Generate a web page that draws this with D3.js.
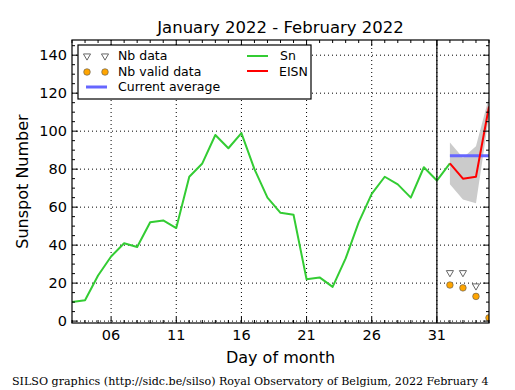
<!DOCTYPE html>
<html><head><meta charset="utf-8">
<script src="https://cdn.jsdelivr.net/npm/d3@7"></script>
<style>body{margin:0;background:#fff}svg{display:block}</style>
</head><body>
<script>
// Data
const snDays = [3,4,5,6,7,8,9,10,11,12,13,14,15,16,17,18,19,20,21,22,23,24,25,26,27,28,29,30,31,32];
const snValues = [10,11,24,34,41,39,52,53,49,76,83,98,91,99,80,65,57,56,22,23,18,33,52,67,76,72,65,81,74,83];
const eisnDays = [32,33,34,35];
const eisnValues = [83,75,76,113];
const bandLow = [72,64,62,108];
const bandHigh = [94,86,92,118];
const avgDays = [32,35];
const avgValue = 87;
const nbDataDays = [32,33,34];
const nbDataValues = [25.5,25.5,18.5];
const nbValidDays = [32,33,34,35];
const nbValidValues = [19,17.5,13,1.7];
const xTickDays = [6,11,16,21,26,31];
const yTicks = [0,20,40,60,80,100,120,140];

const W = 515, H = 390;
const L = 72, R = 489, T = 40, B = 323;
const svg = d3.select("body").append("svg").attr("width", W).attr("height", H);
const x = d3.scaleLinear().domain([3,35]).range([L,R]);
const y = d3.scaleLinear().domain([-1,148]).range([B,T]);
const font = "DejaVu Sans, sans-serif";

svg.append("defs").append("clipPath").attr("id","clip")
  .append("rect").attr("x",L).attr("y",T).attr("width",R-L).attr("height",B-T);

// grid
const grid = svg.append("g");
xTickDays.forEach(d => grid.append("line").attr("x1",x(d)).attr("x2",x(d)).attr("y1",T).attr("y2",B)
  .attr("stroke","#000").attr("stroke-width",1).attr("stroke-dasharray","1,3"));
yTicks.forEach(v => grid.append("line").attr("x1",L).attr("x2",R).attr("y1",y(v)).attr("y2",y(v))
  .attr("stroke","#000").attr("stroke-width",1).attr("stroke-dasharray","1,3"));

const plot = svg.append("g").attr("clip-path","url(#clip)");

// band
const bandData = eisnDays.map((d,i)=>({d, lo:bandLow[i], hi:bandHigh[i]}));
plot.append("path").datum(bandData)
  .attr("d", d3.area().x(p=>x(p.d)).y0(p=>y(p.lo)).y1(p=>y(p.hi)))
  .attr("fill","#cbcbcb");

// current average
plot.append("line").attr("x1",x(avgDays[0])).attr("x2",x(avgDays[1]))
  .attr("y1",y(avgValue)).attr("y2",y(avgValue))
  .attr("stroke","#6666ff").attr("stroke-width",3);

const line = d3.line().x(p=>x(p[0])).y(p=>y(p[1]));
plot.append("path").datum(snDays.map((d,i)=>[d,snValues[i]]))
  .attr("d", line).attr("fill","none").attr("stroke","#33cc33").attr("stroke-width",2).attr("stroke-linejoin","round");
plot.append("path").datum(eisnDays.map((d,i)=>[d,eisnValues[i]]))
  .attr("d", line).attr("fill","none").attr("stroke","#ff0000").attr("stroke-width",2).attr("stroke-linejoin","round");

// vertical separator
svg.append("line").attr("x1",x(31)).attr("x2",x(31)).attr("y1",T).attr("y2",B)
  .attr("stroke","#000").attr("stroke-width",1.2);

const tri = d3.symbol().type(d3.symbolTriangle).size(22);
function drawTri(g, cx, cy){
  g.append("path").attr("d", tri()).attr("transform",`translate(${cx},${cy}) rotate(180)`)
    .attr("fill","#fff").attr("stroke","#666").attr("stroke-width",1);
}
function drawCirc(g, cx, cy){
  g.append("circle").attr("cx",cx).attr("cy",cy).attr("r",3.3)
    .attr("fill","#ffa500").attr("stroke","#555").attr("stroke-width",0.6);
}
nbDataDays.forEach((d,i)=>drawTri(plot, x(d), y(nbDataValues[i])));
nbValidDays.forEach((d,i)=>drawCirc(plot, x(d), y(nbValidValues[i])));

// axes ticks
const ax = svg.append("g");
function tick(x1,y1,x2,y2){ ax.append("line").attr("x1",x1).attr("y1",y1).attr("x2",x2).attr("y2",y2).attr("stroke","#000").attr("stroke-width",1); }
for (let d=3; d<=35; d++){
  const major = xTickDays.includes(d);
  const len = major ? 6 : 3;
  tick(x(d),B,x(d),B-len); tick(x(d),T,x(d),T+len);
}
for (let v=0; v<=145; v+=5){
  const major = v%20===0;
  const len = major ? 6 : 3;
  tick(L,y(v),L+len,y(v)); tick(R,y(v),R-len,y(v));
}
svg.append("rect").attr("x",L).attr("y",T).attr("width",R-L).attr("height",B-T)
  .attr("fill","none").attr("stroke","#000").attr("stroke-width",1.2);

// tick labels
xTickDays.forEach(d => svg.append("text").attr("x",x(d)).attr("y",B+17)
  .attr("text-anchor","middle").attr("font-family",font).attr("font-size",14.5).text(d3.format("02d")(d)));
yTicks.forEach(v => svg.append("text").attr("x",L-5).attr("y",y(v)+5)
  .attr("text-anchor","end").attr("font-family",font).attr("font-size",14.5).text(v));

// titles
svg.append("text").attr("x",(L+R)/2).attr("y",33).attr("text-anchor","middle")
  .attr("font-family",font).attr("font-size",16.5).text("January 2022 - February 2022");
svg.append("text").attr("x",(L+R)/2).attr("y",363).attr("text-anchor","middle")
  .attr("font-family",font).attr("font-size",16).text("Day of month");
svg.append("text").attr("transform",`translate(28,${(T+B)/2}) rotate(-90)`).attr("text-anchor","middle")
  .attr("font-family",font).attr("font-size",16).text("Sunspot Number");
svg.append("text").attr("x",12).attr("y",385)
  .attr("font-family","DejaVu Serif, serif").attr("font-size",11.1)
  .text("SILSO graphics (http://sidc.be/silso) Royal Observatory of Belgium, 2022 February 4");

// legend
const lg = svg.append("g");
lg.append("rect").attr("x",78).attr("y",45).attr("width",233).attr("height",54)
  .attr("fill","#fff").attr("stroke","#000").attr("stroke-width",1.2);
const lf = 12.5;
drawTri(lg, 87, 56); drawTri(lg, 105, 56);
lg.append("text").attr("x",118).attr("y",60).attr("font-family",font).attr("font-size",lf).text("Nb data");
drawCirc(lg, 87, 72); drawCirc(lg, 105, 72);
lg.append("text").attr("x",118).attr("y",76).attr("font-family",font).attr("font-size",lf).text("Nb valid data");
lg.append("line").attr("x1",86).attr("x2",107).attr("y1",87).attr("y2",87).attr("stroke","#6666ff").attr("stroke-width",3);
lg.append("text").attr("x",118).attr("y",91).attr("font-family",font).attr("font-size",lf).text("Current average");
lg.append("line").attr("x1",247).attr("x2",268).attr("y1",56).attr("y2",56).attr("stroke","#33cc33").attr("stroke-width",2);
lg.append("text").attr("x",280).attr("y",60).attr("font-family",font).attr("font-size",lf).text("Sn");
lg.append("line").attr("x1",247).attr("x2",268).attr("y1",71).attr("y2",71).attr("stroke","#ff0000").attr("stroke-width",2);
lg.append("text").attr("x",279).attr("y",76).attr("font-family",font).attr("font-size",lf).text("EISN");
</script>
</body></html>
